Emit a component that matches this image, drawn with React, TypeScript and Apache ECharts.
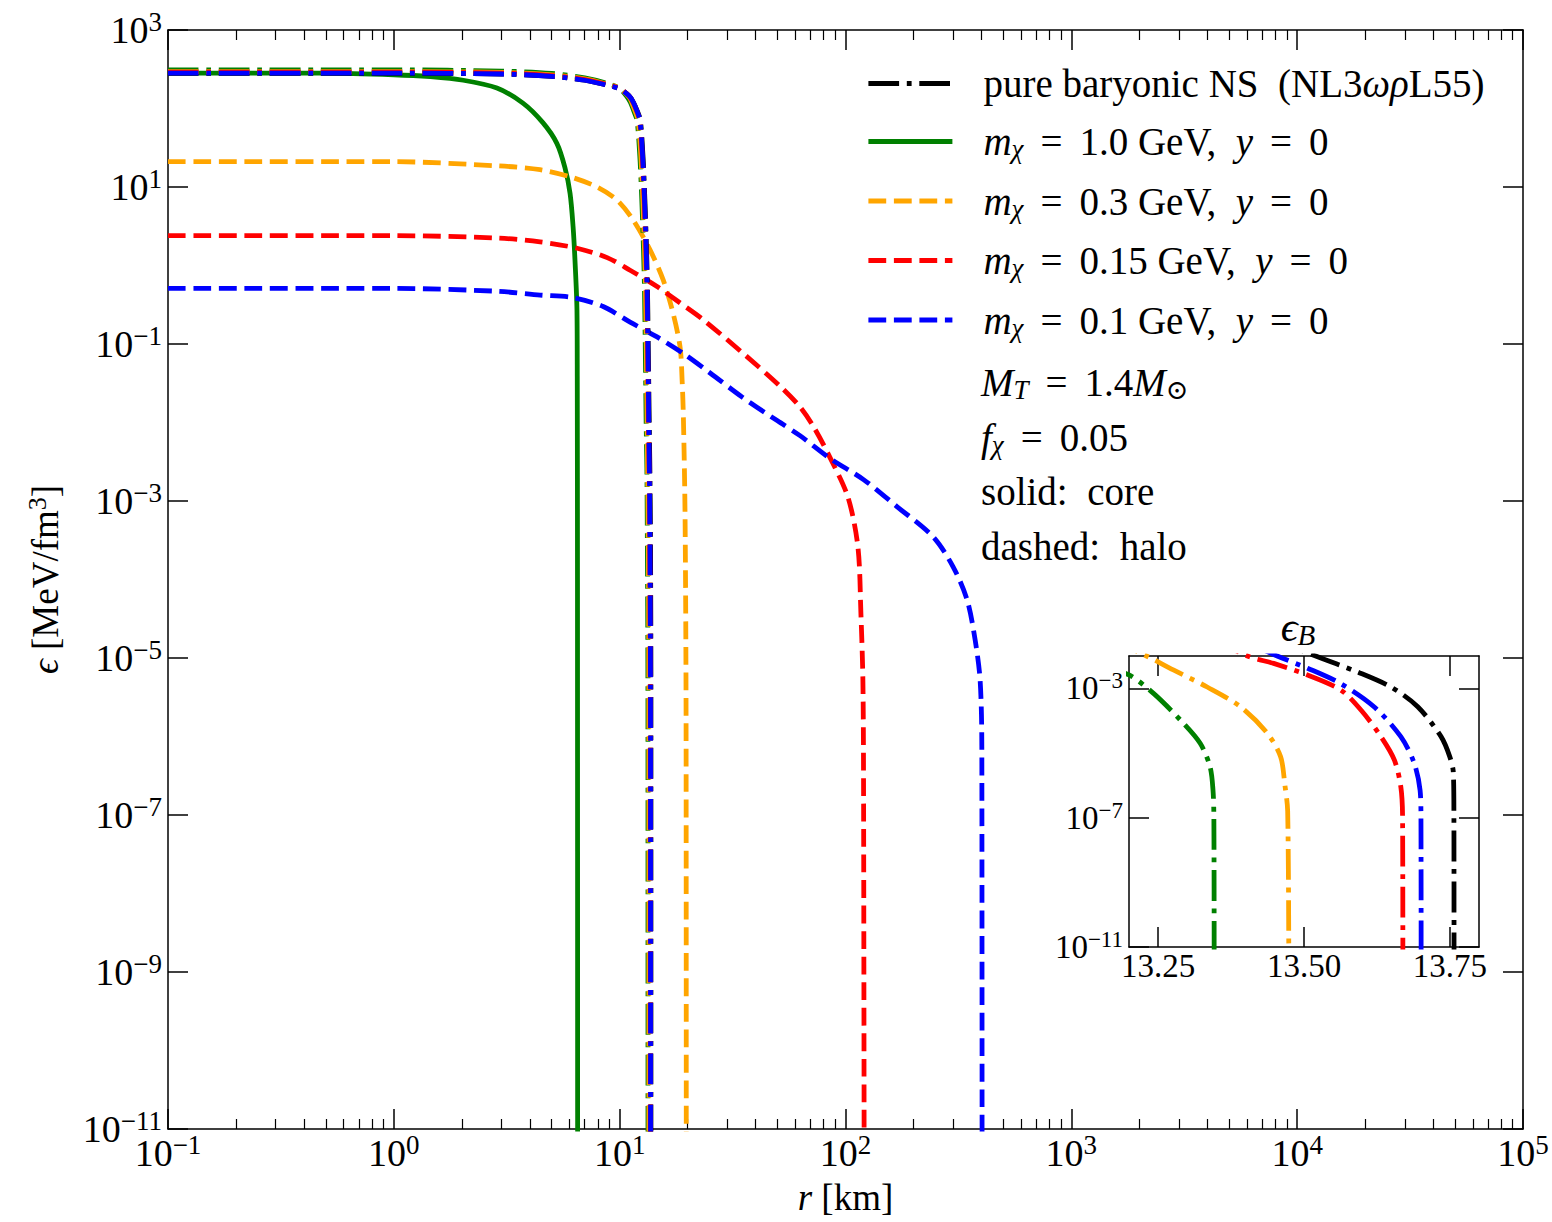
import React, { useEffect, useRef } from "react";
import * as echarts from "echarts";

const FONT = '"Liberation Serif", "DejaVu Serif", "Times New Roman", serif';

// ---------------- data: r in km, epsilon in MeV/fm^3 ----------------
// pure baryonic NS (NL3ωρL55) - black dash-dot
const pureR = [0.1, 1, 3, 5, 7, 9, 10, 11, 11.5, 12, 12.35, 12.68, 12.85, 13.0, 13.15, 13.27, 13.38, 13.53, 13.592, 13.649, 13.695, 13.735, 13.75, 13.756, 13.757, 13.7572];
const pureEps = [280, 280, 275, 257, 229, 195, 178, 145, 120, 91, 71, 25, 11, 4.5, 1.6, 0.56, 0.1, 8.5e-3, 3.2e-3, 1.1e-3, 2.7e-4, 3.2e-5, 7.6e-6, 2.5e-6, 1e-7, 1e-12];

// baryonic component with DM (dash-dot, coloured)
const gBarR = [0.1, 1, 3, 5, 7, 9, 10, 10.7, 11.15, 11.65, 11.95, 12.28, 12.45, 12.6, 12.75, 12.87, 12.98, 13.1, 13.15, 13.2, 13.242, 13.288, 13.322, 13.339, 13.344, 13.3455, 13.346];
const gBarEps = [310, 310, 300, 280, 245, 205, 180, 145, 120, 87, 70, 25, 11, 4.5, 1.6, 0.56, 0.1, 1e-2, 5e-3, 2.6e-3, 7e-4, 1.05e-4, 2e-5, 3.7e-6, 7.1e-7, 1e-7, 1e-12];

const oBarR = [0.1, 1, 3, 5, 7, 9, 10, 11, 11.3, 11.8, 12.08, 12.41, 12.58, 12.73, 12.88, 13.0, 13.11, 13.23, 13.276, 13.334, 13.391, 13.437, 13.46, 13.467, 13.472, 13.474];
const oBarEps = [295, 295, 288, 268, 238, 200, 180, 140, 120, 87, 70, 25, 11, 4.5, 1.6, 0.56, 0.1, 1e-2, 3.7e-3, 1.1e-3, 2.7e-4, 4.1e-5, 7.6e-6, 1.1e-6, 1.6e-7, 1e-12];

const rBarR = [0.1, 1, 3, 5, 7, 9, 10, 11, 11.5, 12, 12.27, 12.59, 12.76, 12.91, 13.06, 13.18, 13.29, 13.403, 13.448, 13.506, 13.563, 13.598, 13.632, 13.655, 13.666, 13.669, 13.6695];
const rBarEps = [290, 290, 282, 263, 234, 198, 180, 145, 118, 87, 70, 25, 11, 4.5, 1.6, 0.56, 0.1, 1e-2, 5.9e-3, 2.6e-3, 8.9e-4, 2.1e-4, 3.2e-5, 6e-6, 8.9e-7, 1e-7, 1e-12];

const bBarR = [0.1, 1, 3, 5, 7, 9, 10, 11, 11.5, 12, 12.3, 12.63, 12.8, 12.95, 13.1, 13.22, 13.33, 13.454, 13.506, 13.563, 13.62, 13.666, 13.689, 13.699, 13.7005, 13.7008];
const bBarEps = [282, 282, 275, 257, 229, 195, 178, 145, 120, 89, 71, 25, 11, 4.5, 1.6, 0.56, 0.1, 1e-2, 4.2e-3, 1.4e-3, 2.7e-4, 3.2e-5, 4.8e-6, 7.1e-7, 1e-7, 1e-12];

// DM core (solid, m = 1.0 GeV)
const gCoreR = [0.1, 0.5, 1.0, 1.45, 2.03, 2.86, 3.73, 4.57, 5.27, 5.72, 6.03, 6.22, 6.34, 6.47, 6.49, 6.505, 6.515];
const gCoreEps = [282, 282, 269, 254, 229, 182, 117, 66, 36, 17.8, 8.3, 3.1, 1.17, 0.27, 0.038, 1e-4, 1e-12];

// DM halos (dashed)
const oHaloR = [0.1, 1, 2.86, 4.44, 6.03, 7.94, 9.74, 11.47, 13.63, 15.57, 17.25, 18.52, 18.9, 19.15, 19.48, 19.68, 19.72];
const oHaloEps = [21, 21, 18.6, 16.6, 13.5, 10, 6.8, 3.8, 1.58, 0.66, 0.245, 0.091, 0.035, 0.0117, 6.3e-4, 1.78e-6, 1e-12];

const rHaloR = [0.1, 1, 2.86, 4.44, 6.48, 8.8, 11.12, 14.64, 17.96, 23.43, 36.6, 51.3, 62.9, 72.1, 85.3, 102.5, 113.5, 117, 119.4, 120.2, 121];
const rHaloEps = [2.4, 2.4, 2.24, 2.0, 1.66, 1.26, 0.87, 0.54, 0.355, 0.204, 0.069, 0.029, 0.0158, 8.9e-3, 3.6e-3, 1.12e-3, 2.6e-4, 3.7e-5, 5.2e-6, 2.8e-7, 1e-12];

const bHaloR = [0.1, 1, 2.86, 4.44, 6.22, 8.45, 11.12, 14.64, 19.1, 25.15, 35, 50, 62.9, 85.3, 120.6, 168.9, 244.3, 299.6, 345.5, 375, 394.6, 401.5, 402.5];
const bHaloEps = [0.51, 0.51, 0.47, 0.42, 0.39, 0.3, 0.19, 0.123, 0.076, 0.0427, 0.0209, 0.0105, 6.8e-3, 3.5e-3, 1.86e-3, 8.5e-4, 3.5e-4, 1.45e-4, 5.5e-5, 1.7e-5, 5.2e-6, 7.4e-7, 1e-12];

// tick values (decade exponents for the main axes)
const xDecades = [-1, 0, 1, 2, 3, 4, 5];
const yDecades = [-11, -9, -7, -5, -3, -1, 1, 3];
const insetXTicks = [13.25, 13.5, 13.75];
const insetYDecades = [-11, -7, -3];

// names
const N_PURE = "pure baryonic NS (NL3ωρL55)";
const N_G = "mχ = 1.0 GeV, y = 0";
const N_O = "mχ = 0.3 GeV, y = 0";
const N_R = "mχ = 0.15 GeV, y = 0";
const N_B = "mχ = 0.1 GeV, y = 0";

const LEGEND_RICH: Record<string, string> = {
  [N_PURE]: "{sp| }{n|pure baryonic NS  (NL3}{i|ωρ}{n|L55)}",
  [N_G]: "{sp| }{i|m}{sub|χ}{eq|=}{n|1.0 GeV,  }{i|y}{eq|=}{n|0}",
  [N_O]: "{sp| }{i|m}{sub|χ}{eq|=}{n|0.3 GeV,  }{i|y}{eq|=}{n|0}",
  [N_R]: "{sp| }{i|m}{sub|χ}{eq|=}{n|0.15 GeV,  }{i|y}{eq|=}{n|0}",
  [N_B]: "{sp| }{i|m}{sub|χ}{eq|=}{n|0.1 GeV,  }{i|y}{eq|=}{n|0}",
};

const LW = 4.8;
const DASHED = [17.8, 7.7];
const DASHDOT = [30.7, 7.7, 4.8, 7.7];
const SMOOTH = 0.3;

const GREEN = "#008000";
const ORANGE = "#FFA500";
const RED = "#FF0000";
const BLUE = "#0000FF";
const BLACK = "#000000";

function expLabel(e: number) {
  const n = Math.round(e);
  const s = n < 0 ? "−" + String(-n) : String(n);
  return `{b|10}{s|${s}}`;
}

const richTick = {
  b: { fontFamily: FONT, fontSize: 38, lineHeight: 44, color: "#000" },
  s: { fontFamily: FONT, fontSize: 27, lineHeight: 14, verticalAlign: "top", color: "#000" },
};
const richTickInset = {
  b: { fontFamily: FONT, fontSize: 33, lineHeight: 38, color: "#000" },
  s: { fontFamily: FONT, fontSize: 23, lineHeight: 11, verticalAlign: "top", color: "#000" },
};
const LF = 39;
const richLegend: any = {
  n: { fontFamily: FONT, fontSize: LF, lineHeight: 42, color: "#000", fill: "#000" },
  i: { fontFamily: FONT, fontSize: LF, fontStyle: "italic", lineHeight: 42, color: "#000", fill: "#000" },
  eq: { fontFamily: FONT, fontSize: LF, lineHeight: 42, padding: [0, 17, 0, 17], color: "#000", fill: "#000" },
  sub: { fontFamily: FONT, fontSize: 27, fontStyle: "italic", lineHeight: 24, verticalAlign: "bottom", color: "#000", fill: "#000" },
  subr: { fontFamily: FONT, fontSize: 27, lineHeight: 24, verticalAlign: "bottom", color: "#000", fill: "#000" },
  sp: { fontFamily: FONT, fontSize: LF, width: 26, lineHeight: 42, color: "#000", fill: "#000" },
};
const richName: any = {
  n: { fontFamily: FONT, fontSize: 37, lineHeight: 42, color: "#000" },
  i: { fontFamily: FONT, fontSize: 37, fontStyle: "italic", lineHeight: 42, color: "#000" },
  sup: { fontFamily: FONT, fontSize: 26, lineHeight: 14, verticalAlign: "top", color: "#000" },
};
const richTitle: any = {
  i: { fontFamily: FONT, fontSize: 42, fontStyle: "italic", lineHeight: 44, fill: "#000" },
  sub: { fontFamily: FONT, fontSize: 29, fontStyle: "italic", lineHeight: 26, verticalAlign: "bottom", fill: "#000" },
};

function mainSeries(name: string, r: number[], eps: number[], color: string, dash: any) {
  return {
    type: "line",
    name,
    xAxisIndex: 0,
    yAxisIndex: 0,
    data: r.map((v, i) => [Math.log10(v), Math.log10(eps[i])]),
    showSymbol: false,
    symbol: "none",
    silent: true,
    clip: true,
    smooth: SMOOTH,
    lineStyle: { color, width: LW, type: dash, cap: "butt", join: "round" },
    itemStyle: { color },
    emphasis: { disabled: true },
  };
}
function insetSeries(name: string, r: number[], eps: number[], color: string) {
  return {
    type: "line",
    name,
    xAxisIndex: 4,
    yAxisIndex: 2,
    data: r.map((v, i) => [v, Math.log10(eps[i])]),
    showSymbol: false,
    symbol: "none",
    silent: true,
    clip: true,
    smooth: SMOOTH,
    lineStyle: { color, width: LW, type: DASHDOT, cap: "butt", join: "round" },
    itemStyle: { color },
    emphasis: { disabled: true },
  };
}

export default function App() {
  const ref = useRef<HTMLDivElement>(null);
  useEffect(() => {
    const chart = echarts.init(ref.current!, null, { renderer: "svg" });

    const xMinor: number[] = [];
    for (let d = -1; d < 5; d++) for (let k = 2; k <= 9; k++) xMinor.push(d + Math.log10(k));

    const axLine = { show: true, onZero: false, lineStyle: { color: "#000", width: 1.5 } };
    const noLine = { show: false, onZero: false };
    const tickStyle = { color: "#000", width: 1.5 };
    const txt = (x: number, y: number, text: string, rich: any, align = "left") => ({
      type: "text", x, y, silent: true,
      style: { text, rich, align, verticalAlign: "middle", fontFamily: FONT, fontSize: LF, fill: "#000" },
    });

    const option: any = {
      animation: false,
      backgroundColor: "#fff",
      grid: [
        { left: 168, top: 30, width: 1355, height: 1099, containLabel: false },
        { left: 1129, top: 656, width: 350, height: 291, show: true, backgroundColor: "#fff", borderWidth: 0, containLabel: false },
      ],
      xAxis: [
        {
          type: "value", gridIndex: 0, position: "bottom", min: -1, max: 5,
          axisLine: axLine,
          axisTick: { show: true, inside: true, length: 20, customValues: xDecades, lineStyle: tickStyle },
          axisLabel: { show: true, customValues: xDecades, margin: 2, color: "#000", fontFamily: FONT, fontSize: 38, formatter: (v: number) => expLabel(v), rich: richTick },
          splitLine: { show: false },
          name: "{i|r}{n| [km]}", nameLocation: "middle", nameGap: 47,
          nameTextStyle: { fontFamily: FONT, fontSize: 37, color: "#000", rich: richName },
        },
        {
          type: "value", gridIndex: 0, position: "top", min: -1, max: 5,
          axisLine: axLine,
          axisTick: { show: true, inside: true, length: 20, customValues: xDecades, lineStyle: tickStyle },
          axisLabel: { show: false }, splitLine: { show: false },
        },
        {
          type: "value", gridIndex: 0, position: "bottom", min: -1, max: 5,
          axisLine: noLine,
          axisTick: { show: true, inside: true, length: 10, customValues: xMinor, lineStyle: { color: "#000", width: 1.2 } },
          axisLabel: { show: false }, splitLine: { show: false },
        },
        {
          type: "value", gridIndex: 0, position: "top", min: -1, max: 5,
          axisLine: noLine,
          axisTick: { show: true, inside: true, length: 10, customValues: xMinor, lineStyle: { color: "#000", width: 1.2 } },
          axisLabel: { show: false }, splitLine: { show: false },
        },
        {
          type: "value", gridIndex: 1, position: "bottom", min: 13.2, max: 13.8,
          axisLine: axLine,
          axisTick: { show: true, inside: true, length: 20, customValues: insetXTicks, lineStyle: tickStyle },
          axisLabel: { show: true, customValues: insetXTicks, margin: 2, color: "#000", fontFamily: FONT, fontSize: 33, formatter: (v: number) => v.toFixed(2) },
          splitLine: { show: false },
        },
        {
          type: "value", gridIndex: 1, position: "top", min: 13.2, max: 13.8,
          axisLine: axLine,
          axisTick: { show: true, inside: true, length: 20, customValues: insetXTicks, lineStyle: tickStyle },
          axisLabel: { show: false }, splitLine: { show: false },
        },
      ],
      yAxis: [
        {
          type: "value", gridIndex: 0, position: "left", min: -11, max: 3,
          axisLine: axLine,
          axisTick: { show: true, inside: true, length: 20, customValues: yDecades, lineStyle: tickStyle },
          axisLabel: { show: true, customValues: yDecades, margin: 6, color: "#000", fontFamily: FONT, fontSize: 38, formatter: (v: number) => expLabel(v), rich: richTick },
          splitLine: { show: false },
          name: "{i|ϵ}{n| [MeV/fm}{sup|3}{n|]}", nameLocation: "middle", nameGap: 102, nameRotate: 90,
          nameTextStyle: { fontFamily: FONT, fontSize: 37, color: "#000", rich: richName },
        },
        {
          type: "value", gridIndex: 0, position: "right", min: -11, max: 3,
          axisLine: axLine,
          axisTick: { show: true, inside: true, length: 20, customValues: yDecades, lineStyle: tickStyle },
          axisLabel: { show: false }, splitLine: { show: false },
        },
        {
          type: "value", gridIndex: 1, position: "left", min: -11, max: -2,
          axisLine: axLine,
          axisTick: { show: true, inside: true, length: 20, customValues: insetYDecades, lineStyle: tickStyle },
          axisLabel: { show: true, customValues: insetYDecades, margin: 6, color: "#000", fontFamily: FONT, fontSize: 33, formatter: (v: number) => expLabel(v), rich: richTickInset },
          splitLine: { show: false },
        },
        {
          type: "value", gridIndex: 1, position: "right", min: -11, max: -2,
          axisLine: axLine,
          axisTick: { show: true, inside: true, length: 20, customValues: insetYDecades, lineStyle: tickStyle },
          axisLabel: { show: false }, splitLine: { show: false },
        },
      ],
      legend: {
        show: true,
        orient: "vertical",
        left: 866,
        top: 64,
        padding: 0,
        itemGap: 19,
        itemWidth: 84,
        itemHeight: 4,
        selectedMode: false,
        data: [N_PURE, N_G, N_O, N_R, N_B],
        formatter: (name: string) => LEGEND_RICH[name] || name,
        textStyle: { fontFamily: FONT, fontSize: LF, color: "#000", rich: richLegend },
        itemStyle: { opacity: 0, borderWidth: 0 },
        lineStyle: { width: LW },
      },
      graphic: [
        txt(981, 382, "{i|M}{sub|T}{eq|=}{n|1.4}{i|M}{subr|⊙}", richLegend),
        txt(981, 437, "{i|f}{sub|χ}{eq|=}{n|0.05}", richLegend),
        txt(981, 491, "{n|solid:  core}", richLegend),
        txt(981, 546, "{n|dashed:  halo}", richLegend),
        txt(1298, 627, "{i|ϵ}{sub|B}", richTitle, "center"),
      ],
      series: [
        mainSeries(N_G, gCoreR, gCoreEps, GREEN, "solid"),
        mainSeries(N_O, oHaloR, oHaloEps, ORANGE, DASHED),
        mainSeries(N_R, rHaloR, rHaloEps, RED, DASHED),
        mainSeries(N_B, bHaloR, bHaloEps, BLUE, DASHED),
        mainSeries(N_PURE, pureR, pureEps, BLACK, DASHDOT),
        mainSeries("baryonic, mχ = 1.0 GeV", gBarR, gBarEps, GREEN, DASHDOT),
        mainSeries("baryonic, mχ = 0.3 GeV", oBarR, oBarEps, ORANGE, DASHDOT),
        mainSeries("baryonic, mχ = 0.15 GeV", rBarR, rBarEps, RED, DASHDOT),
        mainSeries("baryonic, mχ = 0.1 GeV", bBarR, bBarEps, BLUE, DASHDOT),
        insetSeries("baryonic, mχ = 1.0 GeV", gBarR, gBarEps, GREEN),
        insetSeries("baryonic, mχ = 0.3 GeV", oBarR, oBarEps, ORANGE),
        insetSeries("baryonic, mχ = 0.15 GeV", rBarR, rBarEps, RED),
        insetSeries("baryonic, mχ = 0.1 GeV", bBarR, bBarEps, BLUE),
        insetSeries(N_PURE, pureR, pureEps, BLACK),
      ],
    };
    chart.setOption(option);
    return () => chart.dispose();
  }, []);
  return (
    <div
      ref={ref}
      style={{ position: "fixed", left: 0, top: 0, width: 1552, height: 1222, background: "#fff" }}
    />
  );
}
